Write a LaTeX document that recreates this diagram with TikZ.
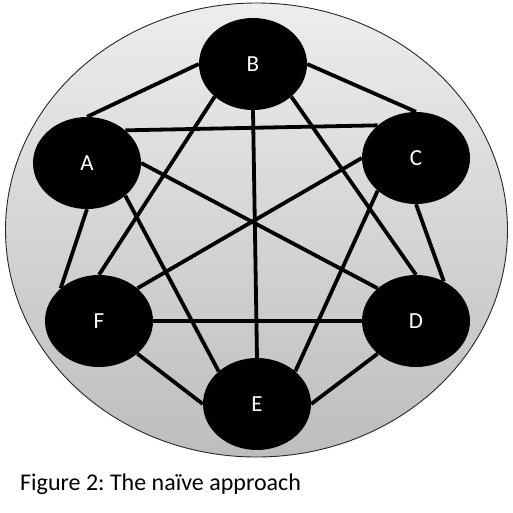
\documentclass[tikz,border=0pt]{standalone}
\usepackage{fontspec}
\setmainfont{Carlito}
\usepackage{tikz}
\usetikzlibrary{shapes.geometric}
\usepackage{xcolor}
\definecolor{domeTop}{HTML}{EDEDED}
\definecolor{domeBottom}{HTML}{BDBDBD}
\pgfdeclarelayer{back}
\pgfdeclarelayer{wires}
\pgfsetlayers{back,wires,main}
\frenchspacing

\begin{document}
\begin{tikzpicture}[x=1pt, y=-1pt,
    peer/.style={ellipse, fill=black, minimum width=108pt, minimum height=92pt,
        inner sep=0pt, text=white, font=\fontsize{23}{26}\selectfont},
    link/.style={line width=3.8pt}]
    \useasboundingbox (0,0) rectangle (513,512);

    % Backdrop
    \begin{pgfonlayer}{back}
        \draw[black!85, line width=0.9pt, top color=domeTop, bottom color=domeBottom]
            (256.5,230) ellipse [x radius=251, y radius=227];
    \end{pgfonlayer}

    % Peers
    \node[peer] (B) at (253,64) {B};
    \node[peer] (A) at (87,163) {A};
    \node[peer] (C) at (416,158) {C};
    \node[peer] (F) at (99,321) {F};
    \node[peer] (D) at (416,321) {D};
    \node[peer] (E) at (257,404) {E};

    % Every pair of peers
    \begin{pgfonlayer}{wires}
        \foreach \u/\v in {A.north/B.west, B.east/C.north, A.north east/C.north west,
                A.east/D.north west, A.south east/E.north west, A.south/F.north west,
                B.south west/F.north, B.south/E.north, B.south east/D.north,
                C.west/F.north east, C.south west/E.north east, C.south/D.55,
                F.east/D.west, F.south east/E.west, D.south west/E.east}
            \draw[link] (\u) -- (\v);
    \end{pgfonlayer}

    % Caption
    \node[anchor=base west, inner sep=0pt, font=\fontsize{24}{28}\selectfont] (caption) at (20,490)
        {Figure 2: The naïve approach};
\end{tikzpicture}
\end{document}
